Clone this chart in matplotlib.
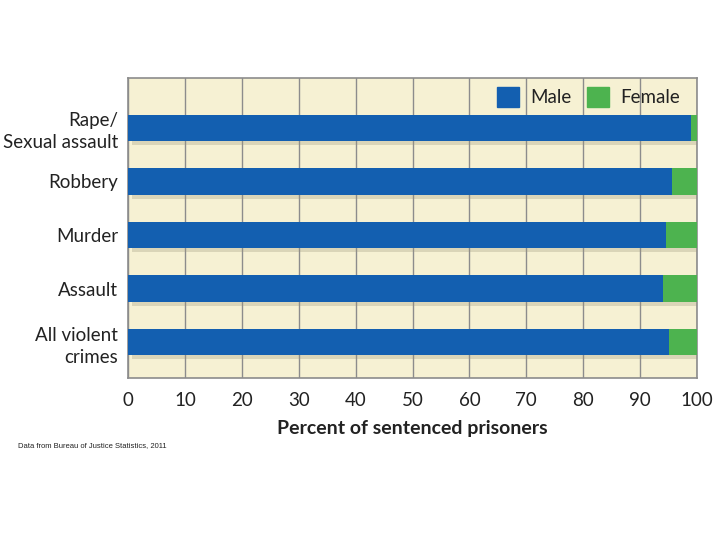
import matplotlib
matplotlib.use("Agg")
import matplotlib.pyplot as plt
from matplotlib.patches import Patch
import matplotlib.patheffects as pe

categories = ["Rape/\nSexual assault", "Robbery", "Murder", "Assault", "All violent\ncrimes"]
male = [99, 95.6, 94.6, 94, 95.1]
female = [100 - m for m in male]
xticks = [0, 10, 20, 30, 40, 50, 60, 70, 80, 90, 100]

plt.rcParams['font.family'] = ['Lato', 'DejaVu Sans']

fig = plt.figure(figsize=(7.2, 5.4), dpi=100)
ax = fig.add_axes([128/720, 1-378/540, (697-128)/720, 300/540])
ax.set_facecolor('#f6f1d3')

ypos = list(range(len(categories)))
blue = '#135fb0'
green = '#4db34f'
shadow = [pe.SimplePatchShadow(offset=(3, -3), shadow_rgbFace='#9a957c', alpha=0.3), pe.Normal()]
ax.barh(ypos, male, height=0.49, color=blue, zorder=3, path_effects=shadow)
ax.barh(ypos, female, left=male, height=0.49, color=green, zorder=3, path_effects=shadow)

ax.set_xlim(0, 100)
ax.set_ylim(4.67, -0.93)
ax.set_xticks(xticks)
ax.set_xticklabels([str(t) for t in xticks], fontsize=13.5, color='#222222')
ax.set_yticks(ypos)
ax.set_yticklabels(categories, fontsize=13.5, color='#222222', ha='right', linespacing=1.35)
ax.tick_params(axis='y', length=0, pad=7)
ax.tick_params(axis='x', length=0, pad=10)
ax.grid(axis='x', color='#8c8c8c', linewidth=1, zorder=1)
for s in ax.spines.values():
    s.set_color('#8c8c8c')
    s.set_linewidth(1.2)

ax.set_xlabel("Percent of sentenced prisoners", fontsize=14, fontweight='bold', color='#222222', labelpad=8)

handles = [Patch(color=blue, label='Male'), Patch(color=green, label='Female')]
ax.legend(handles=handles, loc='upper right', ncol=2, frameon=False, fontsize=13.5,
          handlelength=1.2, handleheight=1.2, columnspacing=0.8, handletextpad=0.6,
          bbox_to_anchor=(1.0, 1.025), labelcolor='#222222')

fig.text(18/720, 1-446/540, "Data from Bureau of Justice Statistics, 2011", fontsize=5.5,
         family=['Liberation Sans', 'DejaVu Sans'], color='#222222', va='center')

fig.savefig("out.png", dpi=100)
